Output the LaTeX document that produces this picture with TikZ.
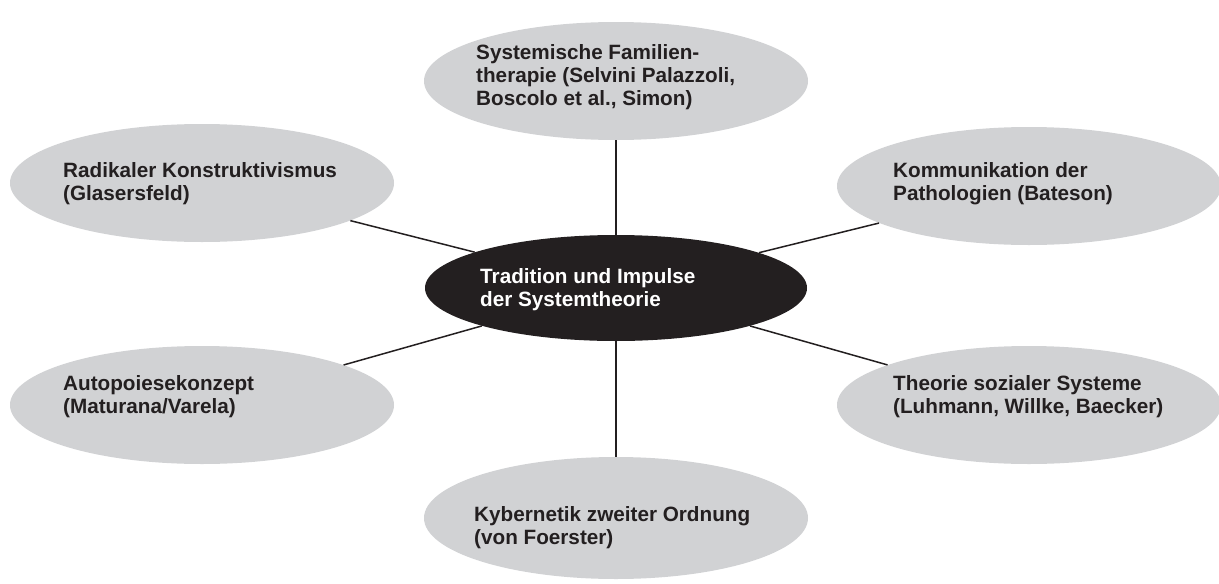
\documentclass[tikz,border=0pt]{standalone}
\usepackage{fontspec}
\setmainfont{Liberation Sans}
\usetikzlibrary{shapes.geometric}
\definecolor{ellgray}{RGB}{209,210,212}
\definecolor{inkblack}{RGB}{35,31,32}
\begin{document}
\begin{tikzpicture}[x=1pt,y=-1pt,
  outer/.style={ellipse, fill=ellgray, minimum width=384pt, minimum height=118pt, inner sep=0pt},
  hub/.style={ellipse, fill=inkblack, minimum width=382pt, minimum height=106pt, inner sep=0pt},
  lbl/.style={anchor=west, align=left, font=\bfseries\fontsize{20.7}{23}\selectfont, text=inkblack, inner sep=0pt},
  hublbl/.style={lbl, text=white},
  link/.style={draw=inkblack, line width=1.5pt}]
\useasboundingbox (0,0) rectangle (1219,584);
% ellipses
\node[outer] (top) at (616,81) {};
\node[outer] (tl) at (202,183) {};
\node[outer] (tr) at (1029,186) {};
\node[outer] (bl) at (202,405) {};
\node[outer] (br) at (1029,405) {};
\node[outer, minimum height=122pt] (bot) at (616,518) {};
\node[hub] (hub) at (616,288) {};
% connectors
\draw[link] (hub) -- (top);
\draw[link] (hub) -- (bot);
\draw[link] (hub) -- (tl);
\draw[link] (hub) -- (tr);
\draw[link] (hub) -- (bl);
\draw[link] (hub) -- (br);
% labels
\node[lbl] (ttop) at (476,77) {Systemische Familien-\\therapie (Selvini Palazzoli,\\Boscolo et al., Simon)};
\node[lbl] (ttl) at (63,184) {Radikaler Konstruktivismus\\(Glasersfeld)};
\node[lbl] (ttr) at (893,184) {Kommunikation der\\Pathologien (Bateson)};
\node[hublbl] (thub) at (480,290) {Tradition und Impulse\\der Systemtheorie};
\node[lbl] (tbl) at (63,397) {Autopoiesekonzept\\(Maturana/Varela)};
\node[lbl] (tbr) at (893,397) {Theorie sozialer Systeme\\(Luhmann, Willke, Baecker)};
\node[lbl] (tbot) at (474,528) {Kybernetik zweiter Ordnung\\(von Foerster)};
\end{tikzpicture}
\end{document}
